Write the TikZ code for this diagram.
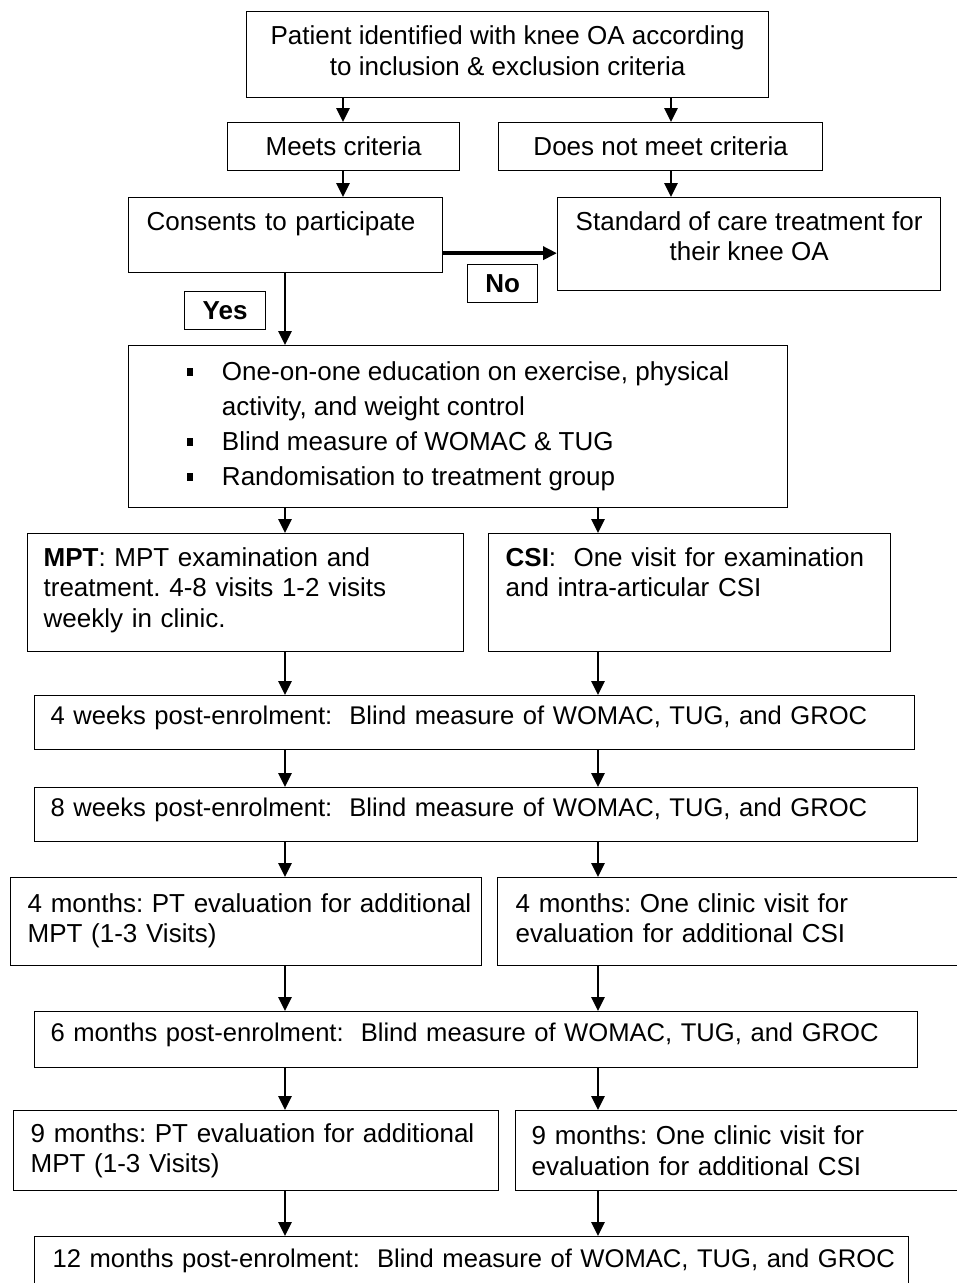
\documentclass[tikz,border=0pt]{standalone}
\usepackage{fontspec}
\setmainfont{Liberation Sans}
\usetikzlibrary{arrows.meta}
\usetikzlibrary{calc}

\newcommand{\sqitem}{\makebox[35pt][l]{\rule[5pt]{6pt}{8pt}}}

\begin{document}
\frenchspacing\hyphenpenalty=10000
\begin{tikzpicture}[x=1pt,y=-1pt,>={Triangle[length=14pt,width=13pt]},
  font=\fontsize{26}{30.5}\selectfont,
  box/.style={draw,line width=1.3pt,anchor=north west,inner xsep=16pt,inner ysep=2pt},
  onerow/.style={text depth=14pt,font=\fontsize{25.6}{30.5}\selectfont},
  tworow/.style={text depth=38pt},
  tag/.style={draw,line width=1.3pt,anchor=north west,inner sep=0pt,font=\fontsize{26}{30.5}\selectfont\bfseries},
  arr/.style={->,line width=2.8pt}]%
\useasboundingbox (0,0) rectangle (957,1283);
% arrow columns
\coordinate (c1) at (343,0);
\coordinate (c2) at (671,0);
\coordinate (L) at (285,0);
\coordinate (R) at (598,0);
% screening
\draw node [box,text depth=8pt,align=center,minimum width=522pt,minimum height=86pt] (patient) at (246,11) {Patient identified with knee OA according\\to inclusion \& exclusion criteria};
\draw node [box,align=center,minimum width=232pt,minimum height=48pt] (meets) at (227,122) {Meets criteria};
\draw node [box,align=center,minimum width=324pt,minimum height=48pt] (notmeet) at (498,122) {Does not meet criteria};
\draw node [box,align=left,text depth=29pt,inner xsep=18pt,text width=278pt,minimum width=314pt,minimum height=75pt] (consent) at (128,197) {Consents to participate};
\draw node [box,align=center,text depth=16pt,minimum width=383pt,minimum height=93pt] (standard) at (557,197) {Standard of care treatment for\\their knee OA};
\draw node [tag,minimum width=70pt,minimum height=38pt] (no) at (467,264) {No};
\draw node [tag,minimum width=81pt,minimum height=38pt] (yes) at (184,291) {Yes};
% baseline
\draw node [box,align=left,font=\fontsize{26}{35}\selectfont,minimum width=659pt,minimum height=162pt] (educ) at (128,345) {\sqitem One-on-one education on exercise, physical\\\hspace*{35pt}activity, and weight control\\\sqitem Blind measure of WOMAC \& TUG\\\sqitem Randomisation to treatment group};
% treatment groups
\draw node [box,align=left,text depth=72pt,text width=404pt,minimum width=436pt,minimum height=118pt] (mpt) at (27,533) {\textbf{MPT}: MPT examination and\\treatment. 4-8 visits 1-2 visits\\weekly in clinic.};
\draw node [box,align=left,text depth=72pt,inner xsep=17pt,text width=368pt,minimum width=402pt,minimum height=118pt] (csi) at (488,533) {\textbf{CSI}:\ \ One visit for examination\\and intra-articular CSI};
% follow-up
\draw node [box,onerow,align=left,text width=848pt,minimum width=880pt,minimum height=54pt] (wk4) at (34,695) {\mbox{4 weeks post-enrolment:\ \ Blind measure of WOMAC, TUG, and GROC}};
\draw node [box,onerow,align=left,text width=851pt,minimum width=883pt,minimum height=54pt] (wk8) at (34,787) {\mbox{8 weeks post-enrolment:\ \ Blind measure of WOMAC, TUG, and GROC}};
\draw node [box,tworow,align=left,inner xsep=17pt,text width=437pt,minimum width=471pt,minimum height=88pt] (mofourmpt) at (10,877) {\mbox{4 months: PT evaluation for additional}\\MPT (1-3 Visits)};
\draw node [box,tworow,align=left,inner xsep=18pt,text width=429pt,minimum width=465pt,minimum height=88pt] (mofourcsi) at (497,877) {4 months: One clinic visit for\\evaluation for additional CSI};
\draw node [box,onerow,align=left,text width=851pt,minimum width=883pt,minimum height=56pt] (mosix) at (34,1011) {\mbox{6 months post-enrolment:\ \ Blind measure of WOMAC, TUG, and GROC}};
\draw node [box,align=left,inner xsep=17pt,text width=451pt,minimum width=485pt,minimum height=80pt] (moninempt) at (13,1110) {\mbox{9 months: PT evaluation for additional}\\MPT (1-3 Visits)};
\draw node [box,align=left,text width=415pt,minimum width=447pt,minimum height=80pt] (moninecsi) at (515,1110) {9 months: One clinic visit for\\evaluation for additional CSI};
\draw node [box,onerow,align=left,inner xsep=18pt,text width=838pt,minimum width=874pt,minimum height=58pt] (motwelve) at (34,1236) {\mbox{12 months post-enrolment:\ \ Blind measure of WOMAC, TUG, and GROC}};
% screening arrows
\draw [arr] (patient.south -| c1) -- (meets.north -| c1);
\draw [arr] (patient.south -| c2) -- (notmeet.north -| c2);
\draw [arr] (meets.south -| c1) -- (consent.north -| c1);
\draw [arr] (notmeet.south -| c2) -- (standard.north -| c2);
\draw [arr,line width=4.5pt] ([yshift=-18pt]consent.east) -- ([yshift=-18pt]consent.east -| standard.west);
\draw [arr] (consent.south -| L) -- (educ.north -| L);
% left column
\draw [arr] (educ.south -| L) -- (mpt.north -| L);
\draw [arr] (mpt.south -| L) -- (wk4.north -| L);
\draw [arr] (wk4.south -| L) -- (wk8.north -| L);
\draw [arr] (wk8.south -| L) -- (mofourmpt.north -| L);
\draw [arr] (mofourmpt.south -| L) -- (mosix.north -| L);
\draw [arr] (mosix.south -| L) -- (moninempt.north -| L);
\draw [arr] (moninempt.south -| L) -- (motwelve.north -| L);
% right column
\draw [arr] (educ.south -| R) -- (csi.north -| R);
\draw [arr] (csi.south -| R) -- (wk4.north -| R);
\draw [arr] (wk4.south -| R) -- (wk8.north -| R);
\draw [arr] (wk8.south -| R) -- (mofourcsi.north -| R);
\draw [arr] (mofourcsi.south -| R) -- (mosix.north -| R);
\draw [arr] (mosix.south -| R) -- (moninecsi.north -| R);
\draw [arr] (moninecsi.south -| R) -- (motwelve.north -| R);
\end{tikzpicture}
\end{document}
